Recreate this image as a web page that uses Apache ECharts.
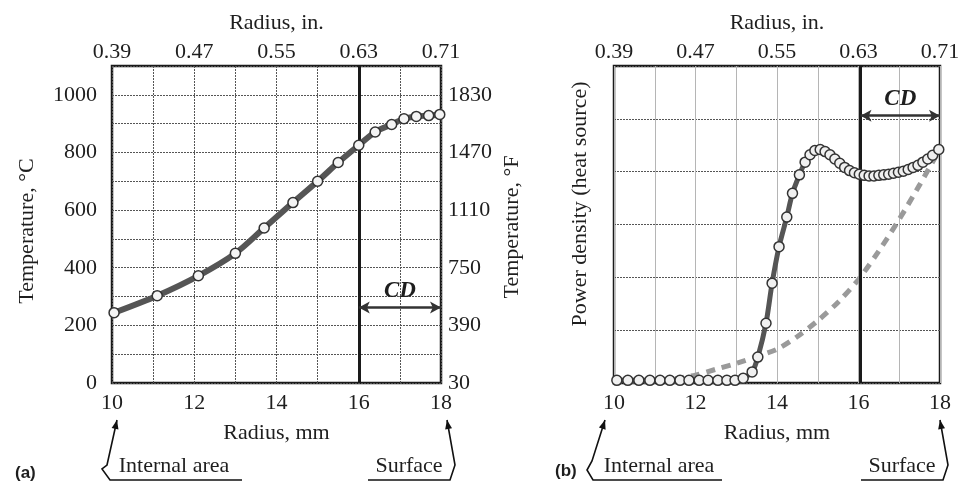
<!DOCTYPE html>
<html><head><meta charset="utf-8">
<script src="https://cdn.jsdelivr.net/npm/echarts@6/dist/echarts.min.js"></script>
<style>html,body{margin:0;padding:0;background:#fff}#c{width:975px;height:488px}</style>
</head><body><div id="c"></div>
<script>
// (a) temperature profile
const radiusA = [10.05, 11.1, 12.1, 13.0, 13.7, 14.4, 15.0, 15.5, 16.0, 16.4, 16.8, 17.1, 17.4, 17.7, 17.97];
const tempA   = [244, 303, 372, 450, 538, 626, 700, 765, 825, 871, 897, 917, 925, 928, 932];
// (b) power density (solid with markers)
const radiusB = [10.07, 10.34, 10.61, 10.88, 11.13, 11.37, 11.62, 11.84, 12.09, 12.31, 12.55, 12.77, 12.97, 13.17, 13.39, 13.53, 13.73, 13.88, 14.05, 14.24, 14.38, 14.55, 14.69, 14.81, 14.93, 15.06, 15.18, 15.30, 15.42, 15.54, 15.66, 15.78, 15.90, 16.02, 16.14, 16.26, 16.38, 16.50, 16.62, 16.74, 16.86, 16.98, 17.10, 17.22, 17.34, 17.46, 17.58, 17.70, 17.82, 17.97];
const powerB  = [0.05, 0.05, 0.05, 0.05, 0.05, 0.05, 0.05, 0.05, 0.05, 0.05, 0.05, 0.05, 0.05, 0.09, 0.21, 0.49, 1.13, 1.89, 2.58, 3.14, 3.59, 3.94, 4.18, 4.32, 4.40, 4.42, 4.38, 4.32, 4.24, 4.16, 4.08, 4.02, 3.98, 3.95, 3.93, 3.92, 3.92, 3.93, 3.94, 3.95, 3.97, 3.99, 4.01, 4.04, 4.08, 4.12, 4.18, 4.24, 4.31, 4.42];
// (b) power density (dashed)
const radiusC = [11.5, 12.0, 12.5, 13.0, 13.5, 14.0, 14.5, 15.0, 15.5, 16.0, 16.5, 17.0, 17.5, 18.0];
const powerC  = [0.08, 0.15, 0.26, 0.37, 0.50, 0.64, 0.88, 1.18, 1.53, 1.96, 2.50, 3.10, 3.75, 4.43];
// tick labels
const inchLabels = ['0.39', '0.47', '0.55', '0.63', '0.71'];
const fahrenheitLabels = ['30', '390', '750', '1110', '1470', '1830'];
// case depth markers
const caseDepthA = 16.0, caseDepthB = 16.05, surfaceMm = 18;
const cdLevelA = 262, cdLevelB = 5.06;

const FONT = 'Liberation Serif';
const TXT = '#1e1e1e';
const pairs = (xs, ys) => xs.map((x, i) => [x, ys[i]]);

function bottomX(grid) {
  return {
    type: 'value', gridIndex: grid, position: 'bottom', min: 10, max: 18, interval: 1,
    name: 'Radius, mm', nameLocation: 'middle', nameGap: 39,
    nameTextStyle: {fontFamily: FONT, fontSize: 22, color: TXT},
    axisLine: {show: false}, axisTick: {show: false},
    axisLabel: {margin: 9, fontFamily: FONT, fontSize: 22, color: TXT, showMinLabel: true, showMaxLabel: true,
      formatter: v => (v % 2 === 0 ? String(v) : '')},
    splitLine: {show: true, lineStyle: grid === 0 ? {color: '#555', width: 1, type: [2, 1]} : {color: '#b5b5b5', width: 1}}
  };
}
function topX(grid) {
  return {
    type: 'value', gridIndex: grid, position: 'top', min: 10, max: 18, interval: 2,
    name: 'Radius, in.', nameLocation: 'middle', nameGap: 32,
    nameTextStyle: {fontFamily: FONT, fontSize: 22, color: TXT},
    axisLine: {show: false}, axisTick: {show: false}, splitLine: {show: false},
    axisLabel: {margin: 3, fontFamily: FONT, fontSize: 22, color: TXT, showMinLabel: true, showMaxLabel: true,
      formatter: v => inchLabels[Math.round((v - 10) / 2)]}
  };
}

function arrowHead(tx, ty, fx, fy) {
  const dx = tx - fx, dy = ty - fy, L = Math.hypot(dx, dy);
  const ux = dx / L, uy = dy / L, len = 9, hw = 3.5;
  const bx = tx - ux * len, by = ty - uy * len;
  return {type: 'polygon', shape: {points: [[tx, ty], [bx - uy * hw, by + ux * hw], [bx + uy * hw, by - ux * hw]]},
    style: {fill: '#111'}};
}
function poly(points) {
  return {type: 'polyline', shape: {points}, style: {stroke: '#111', lineWidth: 1.6, fill: null}};
}
function txt(text, x, y, extra) {
  return Object.assign({type: 'text', x, y, style: {text, fontFamily: FONT, fontSize: 22, fill: TXT,
    textAlign: 'center', textVerticalAlign: 'middle'}}, extra || {});
}

const chart = echarts.init(document.getElementById('c'), null, {renderer: 'canvas'});
const option = {
  backgroundColor: '#fff',
  animation: false,
  grid: [
    {left: 112, right: 534, top: 66, bottom: 105, show: true, borderColor: '#1a1a1a', borderWidth: 2.5, backgroundColor: 'transparent'},
    {left: 614, right: 35, top: 66, bottom: 105, show: true, borderColor: '#1a1a1a', borderWidth: 2.5, backgroundColor: 'transparent'}
  ],
  xAxis: [bottomX(0), topX(0), bottomX(1), topX(1)],
  yAxis: [
    {type: 'value', gridIndex: 0, position: 'left', min: 0, max: 1100, interval: 100,
      axisLine: {show: false}, axisTick: {show: false},
      axisLabel: {margin: 15, fontFamily: FONT, fontSize: 22, color: TXT, formatter: v => (v % 200 === 0 ? String(v) : '')},
      splitLine: {show: true, lineStyle: {color: '#555', width: 1, type: [2, 1]}}},
    {type: 'value', gridIndex: 0, position: 'right', min: 0, max: 1100, interval: 100,
      axisLine: {show: false}, axisTick: {show: false}, splitLine: {show: false},
      axisLabel: {margin: 7, fontFamily: FONT, fontSize: 22, color: TXT,
        formatter: v => (v % 200 === 0 ? fahrenheitLabels[v / 200] : '')}},
    {type: 'value', gridIndex: 1, position: 'left', min: 0, max: 6, interval: 1,
      axisLine: {show: false}, axisTick: {show: false}, axisLabel: {show: false},
      splitLine: {show: true, lineStyle: {color: '#555', width: 1, type: [2, 1]}}}
  ],
  series: [
    {type: 'line', xAxisIndex: 0, yAxisIndex: 0, data: pairs(radiusA, tempA), smooth: 0.3,
      lineStyle: {color: '#555', width: 6}, symbol: 'circle', symbolSize: 10, showAllSymbol: true,
      itemStyle: {color: '#f4f4f4', borderColor: '#333', borderWidth: 1.5}, z: 5,
      markLine: {silent: true, symbol: 'none', label: {show: false}, animation: false,
        lineStyle: {color: '#1a1a1a', width: 3, type: 'solid'}, data: [{xAxis: caseDepthA}]}},
    {type: 'line', xAxisIndex: 0, yAxisIndex: 0, data: [], 
      markLine: {silent: true, symbol: ['arrow', 'arrow'], symbolSize: [9, 11], animation: false,
        lineStyle: {color: '#333', width: 2.5, type: 'solid'},
        label: {show: true, position: 'insideMiddleTop', distance: 5, formatter: 'CD', fontFamily: FONT, fontSize: 23,
          fontWeight: 'bold', fontStyle: 'italic', color: TXT},
        data: [[{coord: [caseDepthA, cdLevelA]}, {coord: [surfaceMm, cdLevelA]}]]}},
    {type: 'line', xAxisIndex: 2, yAxisIndex: 2, data: pairs(radiusC, powerC), smooth: 0.3, symbol: 'none',
      lineStyle: {color: '#9a9a9a', width: 5, type: [9, 7]}, z: 3},
    {type: 'line', xAxisIndex: 2, yAxisIndex: 2, data: pairs(radiusB, powerB), smooth: 0.3,
      lineStyle: {color: '#555', width: 5}, symbol: 'circle', symbolSize: 10, showAllSymbol: true,
      itemStyle: {color: '#f0f0f0', borderColor: '#333', borderWidth: 1.5}, z: 5,
      markLine: {silent: true, symbol: 'none', label: {show: false}, animation: false,
        lineStyle: {color: '#1a1a1a', width: 3, type: 'solid'}, data: [{xAxis: caseDepthB}]}},
    {type: 'line', xAxisIndex: 2, yAxisIndex: 2, data: [],
      markLine: {silent: true, symbol: ['arrow', 'arrow'], symbolSize: [9, 11], animation: false,
        lineStyle: {color: '#333', width: 2.5, type: 'solid'},
        label: {show: true, position: 'insideMiddleTop', distance: 5, formatter: 'CD', fontFamily: FONT, fontSize: 23,
          fontWeight: 'bold', fontStyle: 'italic', color: TXT},
        data: [[{coord: [caseDepthB, cdLevelB]}, {coord: [surfaceMm, cdLevelB]}]]}}
  ],
  graphic: [
    txt('Temperature, °C', 27, 231, {rotation: Math.PI / 2}),
    txt('Temperature, °F', 512, 227, {rotation: Math.PI / 2}),
    txt('Power density (heat source)', 580, 204, {rotation: Math.PI / 2}),
    // (a) annotations
    {type: 'text', x: 15, y: 473, style: {text: '(a)', fontFamily: 'Liberation Sans', fontWeight: 'bold', fontSize: 17, fill: TXT, textVerticalAlign: 'middle'}},
    poly([[117, 420], [107, 465], [102, 469], [110, 480], [242, 480]]),
    arrowHead(117, 420, 107, 465),
    txt('Internal area', 174, 466),
    poly([[447, 420], [455, 465], [450, 480], [368, 480]]),
    arrowHead(447, 420, 455, 465),
    txt('Surface', 409, 466),
    // (b) annotations
    {type: 'text', x: 555, y: 471, style: {text: '(b)', fontFamily: 'Liberation Sans', fontWeight: 'bold', fontSize: 17, fill: TXT, textVerticalAlign: 'middle'}},
    poly([[605, 420], [592, 461], [587, 470], [593, 480], [722, 480]]),
    arrowHead(605, 420, 592, 461),
    txt('Internal area', 659, 466),
    poly([[940, 420], [948, 465], [943, 480], [861, 480]]),
    arrowHead(940, 420, 948, 465),
    txt('Surface', 902, 466)
  ]
};
chart.setOption(option);
</script>
</body></html>
